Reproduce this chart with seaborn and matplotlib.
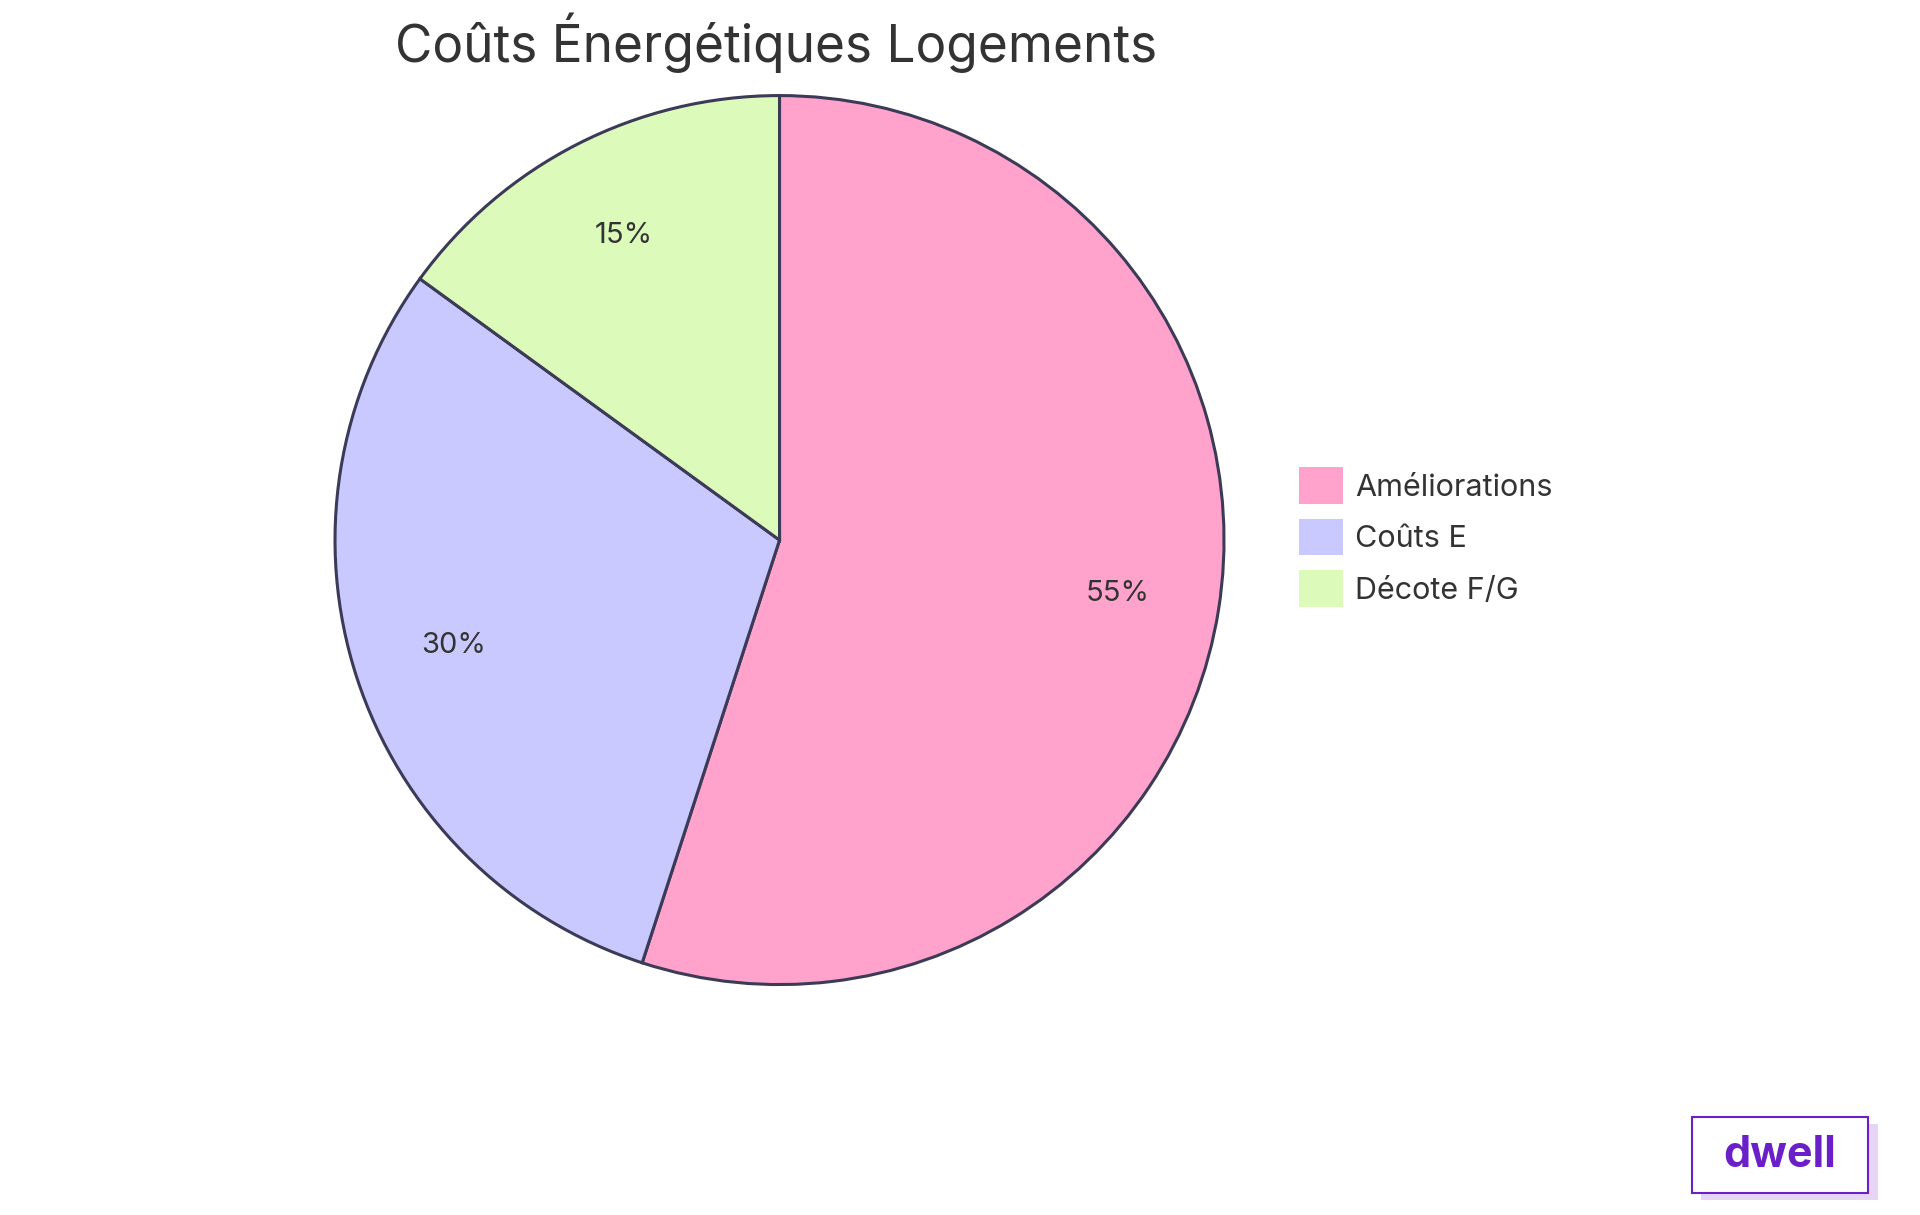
import matplotlib
matplotlib.use("Agg")
import matplotlib.pyplot as plt
import seaborn as sns
from matplotlib.patches import Rectangle

categories = ["Améliorations", "Coûts E", "Décote F/G"]
values = [55, 30, 15]
colors = ["#FFA3CC", "#C9C9FF", "#DCFABA"]
title = "Coûts Énergétiques Logements"

sns.set_theme(style="white")
plt.rcParams['font.family'] = ['Inter', 'DejaVu Sans']
pal = sns.color_palette(colors)

fig = plt.figure(figsize=(19.2, 12.15), dpi=100)
ax = fig.add_axes([0.172, 0.186, 0.468, 0.739])
wedges, texts, autotexts = ax.pie(values, colors=pal, startangle=90, counterclock=False,
       autopct='%1.0f%%', pctdistance=0.77,
       wedgeprops=dict(edgecolor="#3B3B58", linewidth=2.2),
       textprops=dict(fontsize=21, color="#333333"))
ax.set_xlim(-1.01, 1.01)
ax.set_ylim(-1.01, 1.01)
ax.set_aspect('equal')
fig.text(0.404, 0.965, title, ha='center', va='center', fontsize=37, color="#333333")

leg = fig.legend(wedges, categories, loc='center left', bbox_to_anchor=(0.662, 0.558),
                 frameon=False, fontsize=22, handlelength=1.45, handleheight=1.45,
                 labelspacing=0.5, handletextpad=0.4, labelcolor="#333333")
for h in leg.legend_handles:
    h.set_edgecolor('none')

# watermark
fig.patches.append(Rectangle((0.886, 0.012), 0.092, 0.063, transform=fig.transFigure,
                             facecolor="#E6D5F5", edgecolor='none'))
fig.patches.append(Rectangle((0.881, 0.018), 0.092, 0.063, transform=fig.transFigure,
                             facecolor="white", edgecolor="#6A1FC9", linewidth=1.5))
fig.text(0.927, 0.049, "dwell", ha='center', va='center', fontsize=31,
         fontweight='bold', color="#6A1FC9")

fig.savefig("out.png", dpi=100, facecolor="white")
